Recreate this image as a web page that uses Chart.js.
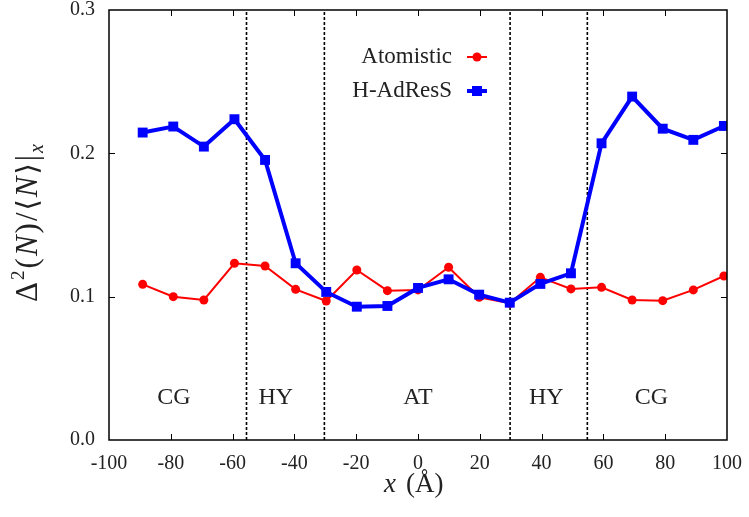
<!DOCTYPE html>
<html>
<head>
<meta charset="utf-8">
<script src="https://cdn.jsdelivr.net/npm/chart.js@4/dist/chart.umd.min.js"></script>
<style>
  html, body { margin: 0; padding: 0; background: #fff; }
  #wrap { width: 749px; height: 517px; }
</style>
</head>
<body>
<div id="wrap"><canvas id="fluct"></canvas></div>
<script>
// bin centres (Å)
const xPos = [-89.1, -79.2, -69.3, -59.4, -49.5, -39.6, -29.7, -19.8, -9.9, 0,
              9.9, 19.8, 29.7, 39.6, 49.5, 59.4, 69.3, 79.2, 89.1, 99];
const atomistic = [0.1086, 0.1000, 0.0977, 0.1233, 0.1214, 0.1051, 0.0970, 0.1186, 0.1042, 0.1047,
                   0.1205, 0.0996, 0.0954, 0.1135, 0.1054, 0.1065, 0.0977, 0.0972, 0.1047, 0.1144];
const adress = [0.2145, 0.2187, 0.2047, 0.2238, 0.1954, 0.1233, 0.1033, 0.0930, 0.0935, 0.1061,
                0.1121, 0.1014, 0.0958, 0.1089, 0.1163, 0.2070, 0.2396, 0.2172, 0.2094, 0.2191];
const boundaries = [-55.5, -30.3, 29.8, 54.8];
const regionNames = ['CG', 'HY', 'AT', 'HY', 'CG'];
const regionCentres = [-79, -46, 0, 41.5, 75.5];
const xTicks = [-100, -80, -60, -40, -20, 0, 20, 40, 60, 80, 100];
const yTicks = [0.0, 0.1, 0.2, 0.3];

const serif = '"Liberation Serif", "DejaVu Serif", serif';
const ink = '#222';

const toPts = (xs, ys) => xs.map((x, i) => ({ x: x, y: ys[i] }));

// dashed region separators as two-point datasets
const sepSets = boundaries.map(b => ({
    label: '_sep',
    data: [{ x: b, y: 0 }, { x: b, y: 0.3 }],
    borderColor: '#000',
    borderWidth: 1.6,
    borderDash: [3, 2],
    pointRadius: 0,
    order: 5
}));

// box, inward ticks, region names, legend, axis titles
const decor = {
    id: 'decor',
    afterDraw(chart) {
        const ctx = chart.ctx;
        const a = chart.chartArea;
        const xs = chart.scales.x, ys = chart.scales.y;
        ctx.save();
        ctx.strokeStyle = '#000';
        ctx.lineWidth = 1.5;
        ctx.strokeRect(a.left, a.top, a.right - a.left, a.bottom - a.top);

        ctx.lineWidth = 1;
        const tl = 6;
        xTicks.slice(1, -1).forEach(t => {
            const px = Math.round(xs.getPixelForValue(t)) + 0.5;
            ctx.beginPath();
            ctx.moveTo(px, a.bottom); ctx.lineTo(px, a.bottom - tl);
            ctx.moveTo(px, a.top); ctx.lineTo(px, a.top + tl);
            ctx.stroke();
        });
        yTicks.slice(1, -1).forEach(t => {
            const py = Math.round(ys.getPixelForValue(t)) + 0.5;
            ctx.beginPath();
            ctx.moveTo(a.left, py); ctx.lineTo(a.left + tl, py);
            ctx.moveTo(a.right, py); ctx.lineTo(a.right - tl, py);
            ctx.stroke();
        });

        // region names
        ctx.fillStyle = ink;
        ctx.font = '24px ' + serif;
        ctx.textAlign = 'center';
        ctx.textBaseline = 'middle';
        regionNames.forEach((n, i) => {
            ctx.fillText(n, xs.getPixelForValue(regionCentres[i]), ys.getPixelForValue(0.0296));
        });

        // legend: text then line sample with marker
        const legendItems = [
            { text: 'Atomistic', color: '#ff0000', lw: 2, shape: 'circle', y: 57 },
            { text: 'H-AdResS', color: '#0000ff', lw: 4, shape: 'rect', y: 91 }
        ];
        ctx.font = '23px ' + serif;
        ctx.textAlign = 'right';
        legendItems.forEach(it => {
            ctx.fillStyle = ink;
            ctx.fillText(it.text, 452, it.y);
            ctx.strokeStyle = it.color;
            ctx.lineWidth = it.lw;
            ctx.beginPath();
            ctx.moveTo(467, it.y); ctx.lineTo(487, it.y);
            ctx.stroke();
            ctx.fillStyle = it.color;
            if (it.shape === 'circle') {
                ctx.beginPath();
                ctx.arc(477, it.y, 4.5, 0, Math.PI * 2);
                ctx.fill();
            } else {
                ctx.fillRect(472, it.y - 5, 10, 10);
            }
        });

        // x axis title: x (Å)
        ctx.fillStyle = ink;
        ctx.textAlign = 'left';
        ctx.textBaseline = 'alphabetic';
        ctx.font = 'italic 27px ' + serif;
        ctx.fillText('x', 384, 492);
        ctx.font = '27px ' + serif;
        ctx.fillText('(Å)', 406, 492);

        // y axis title: Δ²(N)/⟨N⟩|x, rotated
        ctx.translate(37, 222);
        ctx.rotate(-Math.PI / 2);
        const gap = 2;
        const parts = [
            ['Δ', '31px', 0], ['2', '19px', -13], ['(', '31px', 0], ['N', 'italic 31px', 0],
            [')', '31px', 0], ['/', '31px', 0], ['⟨', '29px "DejaVu Serif"', 0], ['N', 'italic 31px', 0],
            ['⟩', '29px "DejaVu Serif"', 0], ['|', '31px', 0], ['x', 'italic 20px', 6]
        ];
        const fontOf = p => p[1].includes('"') ? p[1] : p[1] + ' ' + serif;
        let w = 0;
        parts.forEach(p => {
            ctx.font = fontOf(p);
            w += ctx.measureText(p[0]).width + gap;
        });
        let px = -w / 2;
        parts.forEach(p => {
            ctx.font = fontOf(p);
            ctx.fillText(p[0], px, p[2]);
            px += ctx.measureText(p[0]).width + gap;
        });
        ctx.restore();
    }
};

new Chart(document.getElementById('fluct'), {
    type: 'line',
    data: {
        datasets: [
            {
                label: 'Atomistic',
                data: toPts(xPos, atomistic),
                borderColor: '#ff0000',
                backgroundColor: '#ff0000',
                borderWidth: 2,
                pointStyle: 'circle',
                pointRadius: 4.5,
                pointBorderWidth: 0,
                order: 2
            },
            {
                label: 'H-AdResS',
                data: toPts(xPos, adress),
                borderColor: '#0000ff',
                backgroundColor: '#0000ff',
                borderWidth: 4,
                pointStyle: 'rect',
                pointRadius: 7,
                pointBorderWidth: 0,
                order: 1
            },
            ...sepSets
        ]
    },
    options: {
        responsive: true,
        maintainAspectRatio: false,
        animation: false,
        layout: { padding: { top: 10, right: 22, left: 0, bottom: 0 } },
        plugins: {
            legend: { display: false },
            tooltip: { enabled: false }
        },
        scales: {
            x: {
                type: 'linear',
                min: -100,
                max: 100,
                afterFit: s => {
                    s.height = 77;
                    s.paddingLeft = 0; s.paddingRight = 0;
                },
                afterBuildTicks: s => { s.ticks = xTicks.map(v => ({ value: v })); },
                grid: { display: false, drawTicks: false },
                border: { display: false },
                ticks: {
                    padding: 12,
                    color: ink,
                    font: { family: serif, size: 20 },
                    maxRotation: 0
                }
            },
            y: {
                min: 0,
                max: 0.3,
                afterFit: s => {
                    s.width = 109;
                    s.paddingTop = 0; s.paddingBottom = 0;
                },
                afterBuildTicks: s => { s.ticks = yTicks.map(v => ({ value: v })); },
                grid: { display: false, drawTicks: false },
                border: { display: false },
                ticks: {
                    padding: 14,
                    color: ink,
                    font: { family: serif, size: 20 },
                    callback: v => v.toFixed(1)
                }
            }
        }
    },
    plugins: [decor]
});
</script>
</body>
</html>
